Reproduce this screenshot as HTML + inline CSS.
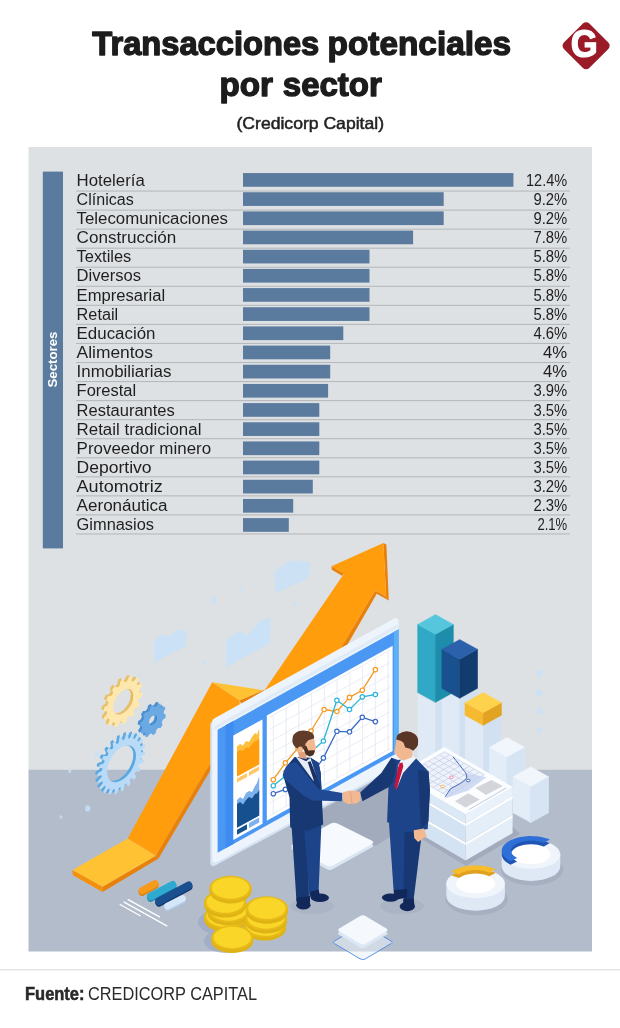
<!DOCTYPE html>
<html lang="es"><head><meta charset="utf-8"><title>Transacciones potenciales por sector</title>
<style>
html,body{margin:0;padding:0;background:#fff}
body{width:620px;height:1028px;overflow:hidden;font-family:"Liberation Sans",sans-serif}
svg{display:block}
svg text{font-family:"Liberation Sans",sans-serif}
.ttl{font-weight:bold;font-size:33.5px;fill:#1c1c1c;stroke:#1c1c1c;stroke-width:1.4px;stroke-linejoin:round}
.sub{font-size:16.5px;fill:#222;stroke:#222;stroke-width:.5px}
.rows text{font-size:16px;fill:#1f1f1f}
.side{font-weight:bold;font-size:12.5px;fill:#fff}
.src{font-size:18px;fill:#2a2a2a}
</style></head>
<body>
<svg width="620" height="1028" viewBox="0 0 620 1028">
<rect width="620" height="1028" fill="#fff"/>
<!-- heading -->
<text class="ttl" y="54.8"><tspan x="92.3" textLength="227" lengthAdjust="spacingAndGlyphs">Transacciones</tspan> <tspan x="327.6" textLength="183.5" lengthAdjust="spacingAndGlyphs">potenciales</tspan></text>
<text class="ttl" y="95.8"><tspan x="219.4" textLength="53.5" lengthAdjust="spacingAndGlyphs">por</tspan> <tspan x="282.8" textLength="99" lengthAdjust="spacingAndGlyphs">sector</tspan></text>
<text class="sub" x="236.5" y="129.1" textLength="147.5" lengthAdjust="spacingAndGlyphs">(Credicorp Capital)</text>
<!-- logo -->
<g>
<rect x="568.15" y="27.75" width="35.9" height="35.9" rx="4.5" fill="#9a1b27" transform="rotate(45 586.1 45.7)"/>
<text transform="translate(584.2 57.3) scale(.89 1)" text-anchor="middle" font-weight="bold" font-size="39" fill="#fff" stroke="#fff" stroke-width="1.2">G</text>
</g>
<!-- panel -->
<rect x="28.5" y="147" width="563.5" height="623" fill="#dee1e4"/>
<rect x="28.5" y="769.8" width="563.5" height="181.7" fill="#b3bccb"/>
<!-- illustration -->
<g id="illus">
<polygon points="153.8,663.0 153.8,640.0 163.0,633.9 169.1,637.0 176.8,629.3 186.0,630.8 186.0,646.1" fill="#c8e1f8" opacity=".85"/>
<polygon points="225.8,667.6 225.8,640.0 239.6,630.8 247.3,635.4 259.5,621.6 270.3,617.0 270.3,643.1" fill="#c8e1f8" opacity=".85"/>
<polygon points="274.8,594.0 274.8,571.0 287.1,561.9 299.4,560.3 310.1,563.4 310.1,577.2" fill="#c8e1f8" opacity=".8"/>
<ellipse cx="213.6" cy="600.2" rx="3.0" ry="3.6" fill="#c8e1f8" opacity=".8"/>
<ellipse cx="241.1" cy="589.4" rx="1.6" ry="1.9" fill="#c8e1f8" opacity=".8"/>
<ellipse cx="294.8" cy="603.2" rx="1.8" ry="2.2" fill="#c8e1f8" opacity=".8"/>
<ellipse cx="204.4" cy="663.0" rx="1.8" ry="2.2" fill="#c8e1f8" opacity=".8"/>
<ellipse cx="539.4" cy="673.5" rx="3.2" ry="3.8" fill="#c8e1f8" opacity=".8"/>
<ellipse cx="539.4" cy="693.0" rx="3.2" ry="3.8" fill="#c8e1f8" opacity=".8"/>
<ellipse cx="539.4" cy="711.0" rx="3.0" ry="3.6" fill="#c8e1f8" opacity=".8"/>
<ellipse cx="539.4" cy="730.6" rx="2.6" ry="3.1" fill="#c8e1f8" opacity=".8"/>
<ellipse cx="87.7" cy="808.4" rx="2.6" ry="3.1" fill="#c8e1f8" opacity=".8"/>
<ellipse cx="61.0" cy="817.0" rx="1.4" ry="1.7" fill="#c8e1f8" opacity=".8"/>
<ellipse cx="69.8" cy="771.0" rx="1.6" ry="1.9" fill="#c8e1f8" opacity=".8"/>
<ellipse cx="97.0" cy="754.0" rx="2.5" ry="3.0" fill="#c8e1f8" opacity=".8"/>
<path transform="matrix(.87 -.5 0 1 120.8 700.4)" d="M18.68,0.00 L22.43,1.82 L21.89,5.20 L17.76,5.77 L16.83,8.10 L19.42,11.37 L17.46,14.19 L13.50,12.91 L11.64,14.60 L12.56,18.67 L9.58,20.36 L6.56,17.48 L4.16,18.21 L3.22,22.27 L-0.20,22.50 L-1.67,18.60 L-4.16,18.21 L-6.76,21.46 L-9.94,20.18 L-9.58,16.03 L-11.64,14.60 L-15.40,16.40 L-17.72,13.87 L-15.59,10.29 L-16.83,8.10 L-20.99,8.09 L-21.98,4.81 L-18.51,2.51 L-18.68,0.00 L-22.43,-1.82 L-21.89,-5.20 L-17.76,-5.77 L-16.83,-8.10 L-19.42,-11.37 L-17.46,-14.19 L-13.50,-12.91 L-11.64,-14.60 L-12.56,-18.67 L-9.58,-20.36 L-6.56,-17.48 L-4.16,-18.21 L-3.22,-22.27 L0.20,-22.50 L1.67,-18.60 L4.16,-18.21 L6.76,-21.46 L9.94,-20.18 L9.58,-16.03 L11.64,-14.60 L15.40,-16.40 L17.72,-13.87 L15.59,-10.29 L16.83,-8.10 L20.99,-8.09 L21.98,-4.81 L18.51,-2.51Z M11.50,0 A11.50,11.50 0 1 0 -11.50,0 A11.50,11.50 0 1 0 11.50,0Z" fill="#e6c06a" fill-rule="evenodd"/>
<path transform="matrix(.87 -.5 0 1 123.2 701.8)" d="M18.68,0.00 L22.43,1.82 L21.89,5.20 L17.76,5.77 L16.83,8.10 L19.42,11.37 L17.46,14.19 L13.50,12.91 L11.64,14.60 L12.56,18.67 L9.58,20.36 L6.56,17.48 L4.16,18.21 L3.22,22.27 L-0.20,22.50 L-1.67,18.60 L-4.16,18.21 L-6.76,21.46 L-9.94,20.18 L-9.58,16.03 L-11.64,14.60 L-15.40,16.40 L-17.72,13.87 L-15.59,10.29 L-16.83,8.10 L-20.99,8.09 L-21.98,4.81 L-18.51,2.51 L-18.68,0.00 L-22.43,-1.82 L-21.89,-5.20 L-17.76,-5.77 L-16.83,-8.10 L-19.42,-11.37 L-17.46,-14.19 L-13.50,-12.91 L-11.64,-14.60 L-12.56,-18.67 L-9.58,-20.36 L-6.56,-17.48 L-4.16,-18.21 L-3.22,-22.27 L0.20,-22.50 L1.67,-18.60 L4.16,-18.21 L6.76,-21.46 L9.94,-20.18 L9.58,-16.03 L11.64,-14.60 L15.40,-16.40 L17.72,-13.87 L15.59,-10.29 L16.83,-8.10 L20.99,-8.09 L21.98,-4.81 L18.51,-2.51Z M11.50,0 A11.50,11.50 0 1 0 -11.50,0 A11.50,11.50 0 1 0 11.50,0Z" fill="#fde7ad" fill-rule="evenodd"/>
<path transform="matrix(.87 -.5 0 1 123.2 701.8)" d="M3.45,-10.92 A11.50,11.50 0 0 1 3.45,10.92 A9.20,11.50 0 0 0 3.45,-10.92Z" fill="#e0b85c"/>
<path transform="matrix(.87 -.5 0 1 150.6 718.8)" d="M12.45,0.00 L14.90,1.69 L14.21,4.81 L11.27,5.30 L10.07,7.32 L11.06,10.13 L8.66,12.25 L6.00,10.91 L3.85,11.84 L3.00,14.70 L-0.19,15.00 L-1.56,12.35 L-3.85,11.84 L-6.22,13.65 L-8.97,12.02 L-8.52,9.08 L-10.07,7.32 L-13.05,7.39 L-14.32,4.46 L-12.23,2.33 L-12.45,0.00 L-14.90,-1.69 L-14.21,-4.81 L-11.27,-5.30 L-10.07,-7.32 L-11.06,-10.13 L-8.66,-12.25 L-6.00,-10.91 L-3.85,-11.84 L-3.00,-14.70 L0.19,-15.00 L1.56,-12.35 L3.85,-11.84 L6.22,-13.65 L8.97,-12.02 L8.52,-9.08 L10.07,-7.32 L13.05,-7.39 L14.32,-4.46 L12.23,-2.33Z M4.50,0 A4.50,4.50 0 1 0 -4.50,0 A4.50,4.50 0 1 0 4.50,0Z" fill="#4c8fd2" fill-rule="evenodd"/>
<path transform="matrix(.87 -.5 0 1 153.0 720.2)" d="M12.45,0.00 L14.90,1.69 L14.21,4.81 L11.27,5.30 L10.07,7.32 L11.06,10.13 L8.66,12.25 L6.00,10.91 L3.85,11.84 L3.00,14.70 L-0.19,15.00 L-1.56,12.35 L-3.85,11.84 L-6.22,13.65 L-8.97,12.02 L-8.52,9.08 L-10.07,7.32 L-13.05,7.39 L-14.32,4.46 L-12.23,2.33 L-12.45,0.00 L-14.90,-1.69 L-14.21,-4.81 L-11.27,-5.30 L-10.07,-7.32 L-11.06,-10.13 L-8.66,-12.25 L-6.00,-10.91 L-3.85,-11.84 L-3.00,-14.70 L0.19,-15.00 L1.56,-12.35 L3.85,-11.84 L6.22,-13.65 L8.97,-12.02 L8.52,-9.08 L10.07,-7.32 L13.05,-7.39 L14.32,-4.46 L12.23,-2.33Z M4.50,0 A4.50,4.50 0 1 0 -4.50,0 A4.50,4.50 0 1 0 4.50,0Z" fill="#6aa9e2" fill-rule="evenodd"/>
<path transform="matrix(.87 -.5 0 1 153.0 720.2)" d="M1.35,-4.27 A4.50,4.50 0 0 1 1.35,4.27 A3.60,4.50 0 0 0 1.35,-4.27Z" fill="#3f7fc4"/>
<path transform="matrix(.87 -.5 0 1 119.1 762.4)" d="M22.82,0.00 L27.46,1.41 L27.20,4.07 L22.37,4.53 L21.90,6.43 L25.95,9.09 L24.95,11.57 L20.19,10.65 L19.20,12.34 L22.34,16.04 L20.68,18.13 L16.37,15.91 L14.95,17.25 L16.92,21.68 L14.74,23.22 L11.22,19.87 L9.48,20.76 L10.12,25.57 L7.60,26.43 L5.17,22.23 L3.25,22.59 L2.51,27.39 L-0.16,27.50 L-1.30,22.79 L-3.25,22.59 L-5.31,26.98 L-7.90,26.34 L-7.67,21.50 L-9.48,20.76 L-12.69,24.39 L-15.00,23.05 L-13.42,18.47 L-14.95,17.25 L-19.05,19.83 L-20.89,17.89 L-18.08,13.94 L-19.20,12.34 L-23.87,13.66 L-25.08,11.28 L-21.27,8.28 L-21.90,6.43 L-26.75,6.38 L-27.24,3.76 L-22.74,1.95 L-22.82,0.00 L-27.46,-1.41 L-27.20,-4.07 L-22.37,-4.53 L-21.90,-6.43 L-25.95,-9.09 L-24.95,-11.57 L-20.19,-10.65 L-19.20,-12.34 L-22.34,-16.04 L-20.68,-18.13 L-16.37,-15.91 L-14.95,-17.25 L-16.92,-21.68 L-14.74,-23.22 L-11.22,-19.87 L-9.48,-20.76 L-10.12,-25.57 L-7.60,-26.43 L-5.17,-22.23 L-3.25,-22.59 L-2.51,-27.39 L0.16,-27.50 L1.30,-22.79 L3.25,-22.59 L5.31,-26.98 L7.90,-26.34 L7.67,-21.50 L9.48,-20.76 L12.69,-24.39 L15.00,-23.05 L13.42,-18.47 L14.95,-17.25 L19.05,-19.83 L20.89,-17.89 L18.08,-13.94 L19.20,-12.34 L23.87,-13.66 L25.08,-11.28 L21.27,-8.28 L21.90,-6.43 L26.75,-6.38 L27.24,-3.76 L22.74,-1.95Z M16.50,0 A16.50,16.50 0 1 0 -16.50,0 A16.50,16.50 0 1 0 16.50,0Z" fill="#5aa9e0" fill-rule="evenodd"/>
<path transform="matrix(.87 -.5 0 1 121.5 763.8)" d="M22.82,0.00 L27.46,1.41 L27.20,4.07 L22.37,4.53 L21.90,6.43 L25.95,9.09 L24.95,11.57 L20.19,10.65 L19.20,12.34 L22.34,16.04 L20.68,18.13 L16.37,15.91 L14.95,17.25 L16.92,21.68 L14.74,23.22 L11.22,19.87 L9.48,20.76 L10.12,25.57 L7.60,26.43 L5.17,22.23 L3.25,22.59 L2.51,27.39 L-0.16,27.50 L-1.30,22.79 L-3.25,22.59 L-5.31,26.98 L-7.90,26.34 L-7.67,21.50 L-9.48,20.76 L-12.69,24.39 L-15.00,23.05 L-13.42,18.47 L-14.95,17.25 L-19.05,19.83 L-20.89,17.89 L-18.08,13.94 L-19.20,12.34 L-23.87,13.66 L-25.08,11.28 L-21.27,8.28 L-21.90,6.43 L-26.75,6.38 L-27.24,3.76 L-22.74,1.95 L-22.82,0.00 L-27.46,-1.41 L-27.20,-4.07 L-22.37,-4.53 L-21.90,-6.43 L-25.95,-9.09 L-24.95,-11.57 L-20.19,-10.65 L-19.20,-12.34 L-22.34,-16.04 L-20.68,-18.13 L-16.37,-15.91 L-14.95,-17.25 L-16.92,-21.68 L-14.74,-23.22 L-11.22,-19.87 L-9.48,-20.76 L-10.12,-25.57 L-7.60,-26.43 L-5.17,-22.23 L-3.25,-22.59 L-2.51,-27.39 L0.16,-27.50 L1.30,-22.79 L3.25,-22.59 L5.31,-26.98 L7.90,-26.34 L7.67,-21.50 L9.48,-20.76 L12.69,-24.39 L15.00,-23.05 L13.42,-18.47 L14.95,-17.25 L19.05,-19.83 L20.89,-17.89 L18.08,-13.94 L19.20,-12.34 L23.87,-13.66 L25.08,-11.28 L21.27,-8.28 L21.90,-6.43 L26.75,-6.38 L27.24,-3.76 L22.74,-1.95Z M16.50,0 A16.50,16.50 0 1 0 -16.50,0 A16.50,16.50 0 1 0 16.50,0Z" fill="#b9dbf8" fill-rule="evenodd"/>
<path transform="matrix(.87 -.5 0 1 121.5 763.8)" d="M4.95,-15.67 A16.50,16.50 0 0 1 4.95,15.67 A13.20,16.50 0 0 0 4.95,-15.67Z" fill="#5aa9e0"/>
<polygon points="417.7,693.9 435.5,703.8 435.5,788.8 417.7,778.9" fill="#dfeaf6" />
<polygon points="435.5,703.8 453.3,693.9 453.3,778.9 435.5,788.8" fill="#d2e1f1" />
<polygon points="441.9,688.9 459.7,698.8 459.7,803.8 441.9,793.9" fill="#dfeaf6" />
<polygon points="459.7,698.8 477.5,688.9 477.5,793.9 459.7,803.8" fill="#d2e1f1" />
<polygon points="465.0,715.1 483.2,725.2 483.2,820.2 465.0,810.1" fill="#dfeaf6" />
<polygon points="483.2,725.2 501.4,715.1 501.4,810.1 483.2,820.2" fill="#d2e1f1" />
<polygon points="417.7,624.4 435.5,634.3 435.5,702.3 417.7,692.4" fill="#2fa9c6" stroke="#2fa9c6" stroke-width=".6"/>
<polygon points="435.5,634.3 453.3,624.4 453.3,692.4 435.5,702.3" fill="#1e8dab" stroke="#1e8dab" stroke-width=".6"/>
<polygon points="435.5,614.5 453.3,624.4 435.5,634.3 417.7,624.4" fill="#56c6dc" stroke="#56c6dc" stroke-width=".4"/>
<polygon points="441.9,649.3 459.7,659.2 459.7,698.2 441.9,688.3" fill="#19518f" stroke="#19518f" stroke-width=".6"/>
<polygon points="459.7,659.2 477.5,649.3 477.5,688.3 459.7,698.2" fill="#123c6e" stroke="#123c6e" stroke-width=".6"/>
<polygon points="459.7,639.4 477.5,649.3 459.7,659.2 441.9,649.3" fill="#2b60ab" stroke="#2b60ab" stroke-width=".4"/>
<polygon points="465.0,702.7 483.2,712.8 483.2,725.3 465.0,715.2" fill="#f6ba30" stroke="#f6ba30" stroke-width=".6"/>
<polygon points="483.2,712.8 501.4,702.7 501.4,715.2 483.2,725.3" fill="#e2a222" stroke="#e2a222" stroke-width=".6"/>
<polygon points="483.2,692.6 501.4,702.7 483.2,712.8 465.0,702.7" fill="#ffd24d" stroke="#ffd24d" stroke-width=".4"/>
<polygon points="489.4,747.2 507.0,756.9 507.0,801.9 489.4,792.2" fill="#e3edf8" stroke="#e3edf8" stroke-width=".6"/>
<polygon points="507.0,756.9 524.6,747.2 524.6,792.2 507.0,801.9" fill="#d6e4f3" stroke="#d6e4f3" stroke-width=".6"/>
<polygon points="507.0,737.4 524.6,747.2 507.0,756.9 489.4,747.2" fill="#f1f6fc" stroke="#f1f6fc" stroke-width=".4"/>
<polygon points="513.0,776.7 530.8,786.6 530.8,822.6 513.0,812.7" fill="#e3edf8" stroke="#e3edf8" stroke-width=".6"/>
<polygon points="530.8,786.6 548.6,776.7 548.6,812.7 530.8,822.6" fill="#d6e4f3" stroke="#d6e4f3" stroke-width=".6"/>
<polygon points="530.8,766.8 548.6,776.7 530.8,786.6 513.0,776.7" fill="#f1f6fc" stroke="#f1f6fc" stroke-width=".4"/>
<polygon points="383.3,543.0 386.4,544.5 388.8,600.5 386.2,596.7" fill="#e8800a" />
<polygon points="375.3,590.2 386.2,596.7 388.8,600.5 376.3,593.6" fill="#e8800a" />
<polygon points="375.3,590.2 376.8,593.8 304.5,719.0 300.0,716.0" fill="#e8800a" />
<polygon points="331.5,566.2 331.8,569.8 342.0,575.8 344.1,573.5" fill="#e8800a" />
<polygon points="383.3,543.0 331.5,566.2 344.1,573.5 262.0,694.0 300.0,716.0 375.3,590.2 386.2,596.7" fill="#ff9d0c" />
<polygon points="212.2,682.2 263.6,690.2 239.7,700.5" fill="#ffc233" />
<polygon points="239.7,700.5 263.6,690.2 268.0,693.0 246.0,714.0" fill="#e8800a" />
<polygon points="212.2,682.2 239.7,700.5 240.0,730.0 214.0,757.0 155.8,855.8 127.7,838.4" fill="#ff9d0c" />
<polygon points="155.8,855.8 214.0,757.0 217.0,759.0 158.5,858.5" fill="#e8800a" />
<polygon points="72.6,869.9 102.6,886.8 102.6,892.0 72.6,875.0" fill="#f5900a" />
<polygon points="102.6,886.8 155.8,855.8 158.5,858.5 102.6,892.0" fill="#e8800a" />
<polygon points="127.7,838.4 72.6,869.9 102.6,886.8 155.8,855.8" fill="#ffc233" />
<polygon points="322.0,810.0 398.0,768.0 398.0,800.0 392.0,836.0 375.0,846.0 322.0,826.0" fill="#a2abbc" />
<path d="M293,846.2 Q290,848.2 293,850.2 L326.5,869 Q329.8,870.8 333,869 L371.5,847.6 Q375,845.6 371.5,843.8 L337.5,825.8 Q334,824 330.8,825.8 Z" fill="#dbe6f3" />
<path d="M293,844 Q290,846 293,848 L326.5,865.4 Q329.8,867.2 333,865.4 L371.5,844.2 Q375,842.4 371.5,840.6 L337.5,823.6 Q334,821.8 330.8,823.6 Z" fill="#f6f9fd" />
<polygon points="213.3,724.5 393.6,624.2 393.6,766.6 213.3,863.0" fill="#d5e3f3" stroke="#d5e3f3" stroke-width="6" stroke-linejoin="round"/>
<polygon points="215.2,721.3 395.6,621.1 395.6,763.3 215.2,859.5" fill="#eef4fc" stroke="#eef4fc" stroke-width="6" stroke-linejoin="round"/>
<polygon points="214.0,726.2 398.6,623.8 398.6,627.5 214.0,730.0" fill="#e0ebf8" />
<polygon points="217.6,729.7 398.6,629.2 398.6,752.2 217.6,852.7" fill="#4a98f4" />
<polygon points="394.0,631.8 398.6,629.2 398.6,752.2 394.0,754.8" fill="#5cb0f6" />
<polygon points="225.5,725.3 233.6,720.8 233.6,843.8 225.5,848.3" fill="#3f8cf0" />
<polygon points="233.3,735.6 262.5,719.4 262.5,823.7 233.3,839.9" fill="#ffffff" />
<polygon points="237.0,746.5 240.0,744.0 243.0,745.5 246.0,741.0 249.0,742.0 252.0,737.0 255.0,733.0 257.0,734.5 259.2,728.5 259.2,764.3 237.0,776.6" fill="#ffbf3a" />
<polygon points="237.0,752.0 240.0,750.0 243.0,751.0 246.0,747.5 249.0,748.0 252.0,744.0 255.0,741.5 259.2,739.0 259.2,764.3 237.0,776.6" fill="#ff9d0c" />
<polygon points="237.0,778.6 247.0,773.0 247.0,777.0 237.0,782.6" fill="#ffc766" />
<polygon points="249.0,772.0 259.2,766.3 259.2,770.3 249.0,776.0" fill="#ffc766" />
<polygon points="237.0,800.0 240.0,797.0 243.0,799.0 246.0,793.0 249.0,791.0 252.0,792.0 255.0,786.0 257.0,783.0 259.2,776.0 259.2,815.5 237.0,827.8" fill="#7db1ee" />
<polygon points="237.0,804.0 240.0,802.0 243.0,804.5 246.0,800.0 249.0,797.0 252.0,798.5 255.0,794.0 257.0,793.5 259.2,790.0 259.2,815.5 237.0,827.8" fill="#17508f" />
<polygon points="237.0,829.8 247.0,824.2 247.0,829.2 237.0,834.8" fill="#17508f" />
<polygon points="249.0,823.0 259.2,817.4 259.2,822.4 249.0,828.0" fill="#7db1ee" />
<polygon points="266.8,715.6 392.6,645.8 392.6,751.0 266.8,820.8" fill="#ffffff" />
<path d="M273.3,715.0v99 M286.1,707.9v99 M298.8,700.8v99 M311.6,693.8v99 M324.3,686.7v99 M337.1,679.6v99 M349.8,672.5v99 M362.6,665.5v99 M375.3,658.4v99 M388.1,651.3v99 M269.5,717.1L390,650.2 M269.5,729.4L390,662.5 M269.5,741.7L390,674.8 M269.5,754.0L390,687.1 M269.5,766.3L390,699.4 M269.5,778.6L390,711.7 M269.5,790.9L390,724.0 M269.5,803.2L390,736.3 M269.5,815.5L390,748.6" fill="none" stroke="#e3e7f1" stroke-width=".8"/>
<path d="M273.3,779.7 L285.4,762.8 L298.0,748.0 L311.0,731.0 L324.1,709.5 L336.9,711.5 L349.5,697.4 L362.3,690.2 L375.4,669.6" fill="none" stroke="#f59a23" stroke-width="1.3" stroke-linejoin="round"/>
<circle cx="273.3" cy="779.7" r="2.2" fill="#fff" stroke="#f59a23" stroke-width="1.2"/>
<circle cx="285.4" cy="762.8" r="2.2" fill="#fff" stroke="#f59a23" stroke-width="1.2"/>
<circle cx="298.0" cy="748.0" r="2.2" fill="#fff" stroke="#f59a23" stroke-width="1.2"/>
<circle cx="311.0" cy="731.0" r="2.2" fill="#fff" stroke="#f59a23" stroke-width="1.2"/>
<circle cx="324.1" cy="709.5" r="2.2" fill="#fff" stroke="#f59a23" stroke-width="1.2"/>
<circle cx="336.9" cy="711.5" r="2.2" fill="#fff" stroke="#f59a23" stroke-width="1.2"/>
<circle cx="349.5" cy="697.4" r="2.2" fill="#fff" stroke="#f59a23" stroke-width="1.2"/>
<circle cx="362.3" cy="690.2" r="2.2" fill="#fff" stroke="#f59a23" stroke-width="1.2"/>
<circle cx="375.4" cy="669.6" r="2.2" fill="#fff" stroke="#f59a23" stroke-width="1.2"/>
<path d="M273.3,785.7 L285.4,776.0 L298.0,760.0 L311.0,752.0 L323.4,741.0 L336.9,700.3 L349.5,709.5 L362.3,696.9 L375.4,694.5" fill="none" stroke="#2db4d8" stroke-width="1.3" stroke-linejoin="round"/>
<circle cx="273.3" cy="785.7" r="2.2" fill="#fff" stroke="#2db4d8" stroke-width="1.2"/>
<circle cx="285.4" cy="776.0" r="2.2" fill="#fff" stroke="#2db4d8" stroke-width="1.2"/>
<circle cx="298.0" cy="760.0" r="2.2" fill="#fff" stroke="#2db4d8" stroke-width="1.2"/>
<circle cx="311.0" cy="752.0" r="2.2" fill="#fff" stroke="#2db4d8" stroke-width="1.2"/>
<circle cx="323.4" cy="741.0" r="2.2" fill="#fff" stroke="#2db4d8" stroke-width="1.2"/>
<circle cx="336.9" cy="700.3" r="2.2" fill="#fff" stroke="#2db4d8" stroke-width="1.2"/>
<circle cx="349.5" cy="709.5" r="2.2" fill="#fff" stroke="#2db4d8" stroke-width="1.2"/>
<circle cx="362.3" cy="696.9" r="2.2" fill="#fff" stroke="#2db4d8" stroke-width="1.2"/>
<circle cx="375.4" cy="694.5" r="2.2" fill="#fff" stroke="#2db4d8" stroke-width="1.2"/>
<path d="M273.3,793.7 L285.4,789.4 L298.0,785.0 L311.0,776.0 L323.4,757.9 L336.9,731.3 L349.5,731.8 L362.3,717.3 L375.4,721.6" fill="none" stroke="#3a6cc6" stroke-width="1.3" stroke-linejoin="round"/>
<circle cx="273.3" cy="793.7" r="2.2" fill="#fff" stroke="#3a6cc6" stroke-width="1.2"/>
<circle cx="285.4" cy="789.4" r="2.2" fill="#fff" stroke="#3a6cc6" stroke-width="1.2"/>
<circle cx="298.0" cy="785.0" r="2.2" fill="#fff" stroke="#3a6cc6" stroke-width="1.2"/>
<circle cx="311.0" cy="776.0" r="2.2" fill="#fff" stroke="#3a6cc6" stroke-width="1.2"/>
<circle cx="323.4" cy="757.9" r="2.2" fill="#fff" stroke="#3a6cc6" stroke-width="1.2"/>
<circle cx="336.9" cy="731.3" r="2.2" fill="#fff" stroke="#3a6cc6" stroke-width="1.2"/>
<circle cx="349.5" cy="731.8" r="2.2" fill="#fff" stroke="#3a6cc6" stroke-width="1.2"/>
<circle cx="362.3" cy="717.3" r="2.2" fill="#fff" stroke="#3a6cc6" stroke-width="1.2"/>
<circle cx="375.4" cy="721.6" r="2.2" fill="#fff" stroke="#3a6cc6" stroke-width="1.2"/>
<polygon points="420.0,838.0 466.0,866.0 520.0,834.0 512.0,826.0" fill="#a2abbc" />
<polygon points="397.3,804.6 465.6,844.5 465.6,860.5 397.3,820.6" fill="#d3e3f3" />
<polygon points="465.6,844.5 512.6,817.0 512.6,833.0 465.6,860.5" fill="#e4eef9" />
<polygon points="397.3,802.6 465.6,842.5 465.6,845.0 397.3,805.1" fill="#ffffff" />
<polygon points="465.6,842.5 512.6,815.0 512.6,817.5 465.6,845.0" fill="#ffffff" />
<polygon points="397.3,785.6 465.6,825.5 465.6,842.5 397.3,802.6" fill="#d3e3f3" />
<polygon points="465.6,825.5 512.6,798.0 512.6,815.0 465.6,842.5" fill="#e4eef9" />
<polygon points="397.3,783.6 465.6,823.5 465.6,826.0 397.3,786.1" fill="#ffffff" />
<polygon points="465.6,823.5 512.6,796.0 512.6,798.5 465.6,826.0" fill="#ffffff" />
<polygon points="397.3,774.6 465.6,814.5 465.6,823.5 397.3,783.6" fill="#dbe8f5" />
<polygon points="465.6,814.5 512.6,787.0 512.6,796.0 465.6,823.5" fill="#e9f1fa" />
<polygon points="444.3,747.1 512.6,787.0 465.6,814.5 397.3,774.6" fill="#fbfdff" />
<polygon points="444.6,751.7 484.3,774.8 447.6,796.3 408.0,773.1" fill="#eef2fb" />
<path d="M444.6,751.7L408.0,773.1 M449.6,754.6L412.9,776.0 M454.5,757.5L417.9,778.9 M459.5,760.4L422.8,781.8 M464.4,763.3L427.8,784.7 M469.4,766.2L432.7,787.6 M474.3,769.1L437.7,790.5 M479.3,771.9L442.6,793.4 M484.3,774.8L447.6,796.3 M444.6,751.7L484.3,774.8 M439.4,754.8L479.0,777.9 M434.2,757.8L473.8,781.0 M428.9,760.9L468.5,784.0 M423.7,763.9L463.3,787.1 M418.5,767.0L458.1,790.2 M413.2,770.1L452.8,793.2 M408.0,773.1L447.6,796.3" fill="none" stroke="#b4bfdc" stroke-width=".5"/>
<polygon points="465.6,773.0 486.5,777.2 468.2,790.5 445.2,798.6 450.5,788.8 460.2,783.5 466.5,778.1" fill="#c6d3f0" opacity=".8"/>
<path d="M453.1,756.9 L459.4,764.8 L465.6,772.8 Q467.5,776.5 466.5,778.1 Q464,781.5 460.2,783.5 L450.5,788.8 L445.2,796.8" fill="none" stroke="#3a5fb0" stroke-width=".9" stroke-linejoin="round"/>
<ellipse cx="451.4" cy="777.3" rx="1.8" ry="1.3" fill="#fff" stroke="#f07ab0" stroke-width=".9"/>
<ellipse cx="442.5" cy="786.5" rx="1.8" ry="1.3" fill="#fff" stroke="#f5a84a" stroke-width=".9"/>
<ellipse cx="468.2" cy="780.5" rx="1.8" ry="1.3" fill="#fff" stroke="#3a5fb0" stroke-width=".9"/>
<polygon points="475.3,787.9 491.3,779.9 502.8,786.1 486.0,795.0" fill="#d3d5da" />
<polygon points="454.9,801.2 468.2,793.2 479.8,799.4 465.6,807.4" fill="#d3d5da" />
<path d="M506.4,787.8L468.8,809.8" fill="none" stroke="#9aa6c4" stroke-width=".6"/>
<ellipse cx="532.0" cy="869.3" rx="31.3" ry="16.1" fill="#a2abbc" opacity=".7"/>
<path d="M501.7,854.3 v12 a29.3,14.6 0 0 0 58.6,0 v-12 Z" fill="#dfe9f5"/>
<ellipse cx="531.0" cy="854.3" rx="29.3" ry="14.6" fill="#f0f5fb" />
<ellipse cx="531.0" cy="854.3" rx="19.5" ry="9.8" fill="#ffffff" />
<polygon points="549.8,843.1 548.1,842.4 546.2,841.8 544.2,841.3 542.2,840.8 540.1,840.4 537.9,840.1 535.7,839.9 533.5,839.8 531.2,839.7 529.0,839.7 526.7,839.9 524.5,840.1 522.3,840.4 520.2,840.7 518.2,841.2 516.2,841.7 514.3,842.3 512.5,843.0 510.8,843.7 509.2,844.5 507.8,845.4 506.5,846.3 505.3,847.3 504.3,848.3 503.5,849.3 502.8,850.4 502.3,851.5 501.9,852.6 501.7,853.7 501.7,854.8 501.9,855.9 502.2,857.0 502.7,858.1 503.4,859.2 504.2,860.2 505.2,861.2 506.4,862.2 507.7,863.1 509.1,864.0 510.6,864.8 517.1,861.5 516.0,860.9 515.1,860.3 514.2,859.7 513.4,859.1 512.7,858.4 512.2,857.7 511.7,856.9 511.4,856.2 511.1,855.4 511.0,854.6 511.0,853.9 511.1,853.1 511.4,852.4 511.7,851.6 512.2,850.9 512.8,850.2 513.5,849.5 514.3,848.8 515.2,848.2 516.1,847.6 517.2,847.1 518.4,846.6 519.6,846.1 520.9,845.7 522.2,845.3 523.6,845.0 525.1,844.7 526.6,844.5 528.1,844.4 529.6,844.3 531.1,844.3 532.7,844.3 534.2,844.4 535.7,844.6 537.2,844.8 538.6,845.1 540.0,845.4 541.4,845.7 542.6,846.2 543.9,846.6" fill="#1f55b5" />
<polygon points="549.8,839.5 548.1,838.8 546.2,838.2 544.2,837.7 542.2,837.2 540.1,836.8 537.9,836.5 535.7,836.3 533.5,836.2 531.2,836.1 529.0,836.1 526.7,836.3 524.5,836.5 522.3,836.8 520.2,837.1 518.2,837.6 516.2,838.1 514.3,838.7 512.5,839.4 510.8,840.1 509.2,840.9 507.8,841.8 506.5,842.7 505.3,843.7 504.3,844.7 503.5,845.7 502.8,846.8 502.3,847.9 501.9,849.0 501.7,850.1 501.7,851.2 501.9,852.3 502.2,853.4 502.7,854.5 503.4,855.6 504.2,856.6 505.2,857.6 506.4,858.6 507.7,859.5 509.1,860.4 510.6,861.2 517.1,857.9 516.0,857.3 515.1,856.7 514.2,856.1 513.4,855.5 512.7,854.8 512.2,854.1 511.7,853.3 511.4,852.6 511.1,851.8 511.0,851.0 511.0,850.3 511.1,849.5 511.4,848.8 511.7,848.0 512.2,847.3 512.8,846.6 513.5,845.9 514.3,845.2 515.2,844.6 516.1,844.0 517.2,843.5 518.4,843.0 519.6,842.5 520.9,842.1 522.2,841.7 523.6,841.4 525.1,841.1 526.6,840.9 528.1,840.8 529.6,840.7 531.1,840.7 532.7,840.7 534.2,840.8 535.7,841.0 537.2,841.2 538.6,841.5 540.0,841.8 541.4,842.1 542.6,842.6 543.9,843.0" fill="#2f6fd8" />
<ellipse cx="476.6" cy="899.1" rx="31.3" ry="16.1" fill="#a2abbc" opacity=".7"/>
<path d="M446.3,883.6 v12.5 a29.3,14.6 0 0 0 58.6,0 v-12.5 Z" fill="#dfe9f5"/>
<ellipse cx="475.6" cy="883.6" rx="29.3" ry="14.6" fill="#f0f5fb" />
<ellipse cx="475.6" cy="883.6" rx="19.5" ry="9.8" fill="#ffffff" />
<polygon points="495.6,872.9 494.6,872.5 493.7,872.1 492.6,871.7 491.6,871.4 490.5,871.0 489.4,870.7 488.3,870.4 487.1,870.2 486.0,869.9 484.8,869.7 483.6,869.5 482.3,869.4 481.1,869.3 479.9,869.2 478.6,869.1 477.3,869.0 476.1,869.0 474.8,869.0 473.5,869.0 472.3,869.1 471.0,869.2 469.8,869.3 468.5,869.4 467.3,869.6 466.1,869.8 464.9,870.0 463.8,870.2 462.6,870.5 461.5,870.8 460.4,871.1 459.3,871.5 458.3,871.8 457.3,872.2 456.3,872.6 455.4,873.0 454.5,873.5 453.6,873.9 452.8,874.4 452.0,874.9 451.3,875.4 459.0,878.0 459.5,877.7 460.0,877.3 460.6,877.0 461.2,876.7 461.8,876.4 462.4,876.1 463.1,875.8 463.8,875.5 464.5,875.3 465.2,875.1 466.0,874.8 466.7,874.6 467.5,874.5 468.3,874.3 469.1,874.1 470.0,874.0 470.8,873.9 471.6,873.8 472.5,873.7 473.3,873.7 474.2,873.6 475.1,873.6 475.9,873.6 476.8,873.6 477.6,873.7 478.5,873.7 479.4,873.8 480.2,873.9 481.0,874.0 481.9,874.1 482.7,874.2 483.5,874.4 484.3,874.6 485.0,874.8 485.8,875.0 486.5,875.2 487.2,875.5 487.9,875.7 488.6,876.0 489.2,876.3" fill="#e0a21e" />
<polygon points="495.6,869.3 494.6,868.9 493.7,868.5 492.6,868.1 491.6,867.8 490.5,867.4 489.4,867.1 488.3,866.8 487.1,866.6 486.0,866.3 484.8,866.1 483.6,865.9 482.3,865.8 481.1,865.7 479.9,865.6 478.6,865.5 477.3,865.4 476.1,865.4 474.8,865.4 473.5,865.4 472.3,865.5 471.0,865.6 469.8,865.7 468.5,865.8 467.3,866.0 466.1,866.2 464.9,866.4 463.8,866.6 462.6,866.9 461.5,867.2 460.4,867.5 459.3,867.9 458.3,868.2 457.3,868.6 456.3,869.0 455.4,869.4 454.5,869.9 453.6,870.3 452.8,870.8 452.0,871.3 451.3,871.8 459.0,874.4 459.5,874.1 460.0,873.7 460.6,873.4 461.2,873.1 461.8,872.8 462.4,872.5 463.1,872.2 463.8,871.9 464.5,871.7 465.2,871.5 466.0,871.2 466.7,871.0 467.5,870.9 468.3,870.7 469.1,870.5 470.0,870.4 470.8,870.3 471.6,870.2 472.5,870.1 473.3,870.1 474.2,870.0 475.1,870.0 475.9,870.0 476.8,870.0 477.6,870.1 478.5,870.1 479.4,870.2 480.2,870.3 481.0,870.4 481.9,870.5 482.7,870.6 483.5,870.8 484.3,871.0 485.0,871.2 485.8,871.4 486.5,871.6 487.2,871.9 487.9,872.1 488.6,872.4 489.2,872.7" fill="#f7bc2c" />
<ellipse cx="222.0" cy="922.0" rx="24.0" ry="13.0" fill="#9ba8c4" opacity=".7"/>
<ellipse cx="226.0" cy="941.0" rx="22.0" ry="12.0" fill="#9ba8c4" opacity=".7"/>
<path d="M204.1,916.5 v3 a21.1,12.3 0 0 0 42.2,0 v-3 Z" fill="#dfb314"/>
<ellipse cx="225.2" cy="916.5" rx="21.1" ry="12.3" fill="#e6ba18" />
<ellipse cx="225.2" cy="916.3" rx="18.7" ry="10.7" fill="#f9d628" />
<path d="M207.6,910.2 v3 a21.1,12.3 0 0 0 42.2,0 v-3 Z" fill="#dfb314"/>
<ellipse cx="228.7" cy="910.2" rx="21.1" ry="12.3" fill="#e6ba18" />
<ellipse cx="228.7" cy="910.0" rx="18.7" ry="10.7" fill="#f9d628" />
<path d="M204.1,902.3 v3 a21.1,12.3 0 0 0 42.2,0 v-3 Z" fill="#dfb314"/>
<ellipse cx="225.2" cy="902.3" rx="21.1" ry="12.3" fill="#e6ba18" />
<ellipse cx="225.2" cy="902.1" rx="18.7" ry="10.7" fill="#f9d628" />
<path d="M209.4,888.1 v3 a21.1,12.3 0 0 0 42.2,0 v-3 Z" fill="#dfb314"/>
<ellipse cx="230.5" cy="888.1" rx="21.1" ry="12.3" fill="#e6ba18" />
<ellipse cx="230.5" cy="887.9" rx="18.7" ry="10.7" fill="#f9d628" />
<path d="M243.9,925.3 v3 a21.1,12.3 0 0 0 42.2,0 v-3 Z" fill="#dfb314"/>
<ellipse cx="265.0" cy="925.3" rx="21.1" ry="12.3" fill="#e6ba18" />
<ellipse cx="265.0" cy="925.1" rx="18.7" ry="10.7" fill="#f9d628" />
<path d="M244.9,918.2 v3 a21.1,12.3 0 0 0 42.2,0 v-3 Z" fill="#dfb314"/>
<ellipse cx="266.0" cy="918.2" rx="21.1" ry="12.3" fill="#e6ba18" />
<ellipse cx="266.0" cy="918.0" rx="18.7" ry="10.7" fill="#f9d628" />
<path d="M245.8,908.5 v3 a21.1,12.3 0 0 0 42.2,0 v-3 Z" fill="#dfb314"/>
<ellipse cx="266.9" cy="908.5" rx="21.1" ry="12.3" fill="#e6ba18" />
<ellipse cx="266.9" cy="908.3" rx="18.7" ry="10.7" fill="#f9d628" />
<path d="M211.2,937.7 v3 a21.1,12.3 0 0 0 42.2,0 v-3 Z" fill="#dfb314"/>
<ellipse cx="232.3" cy="937.7" rx="21.1" ry="12.3" fill="#e6ba18" />
<ellipse cx="232.3" cy="937.5" rx="18.7" ry="10.7" fill="#f9d628" />
<path d="M142.2,892.2L155.0,885.4" stroke="#d9820f" stroke-width="7.2" stroke-linecap="round" fill="none"/>
<path d="M142.2,890.6L155.0,883.8" stroke="#f59a1a" stroke-width="7.2" stroke-linecap="round" fill="none"/>
<path d="M150.8,898.0L172.6,886.4" stroke="#1f8db3" stroke-width="7.6" stroke-linecap="round" fill="none"/>
<path d="M150.8,896.4L172.6,884.8" stroke="#2eaad0" stroke-width="7.6" stroke-linecap="round" fill="none"/>
<path d="M159.0,902.8L188.6,886.9" stroke="#123a70" stroke-width="7.6" stroke-linecap="round" fill="none"/>
<path d="M159.0,901.2L188.6,885.3" stroke="#1a4f90" stroke-width="7.6" stroke-linecap="round" fill="none"/>
<path d="M167.6,907.6L182.6,900.1" stroke="#b4cdea" stroke-width="6.6" stroke-linecap="round" fill="none"/>
<path d="M167.6,906.0L182.6,898.5" stroke="#d4e6f9" stroke-width="6.6" stroke-linecap="round" fill="none"/>
<path d="M127.7,899.4L160,917.1 M123.7,901.9L167.3,926.1 M119.7,904.2L140.6,916" fill="none" stroke="#ffffff" stroke-width="1.3"/>
<path d="M334.5,941 Q332,942.2 334.5,943.6 L360,958.8 Q362.8,960.4 365.6,958.8 L391,943.6 Q393.6,942.2 391,941 L365.6,926 Q362.8,924.4 360,926 Z" fill="#e9f1fb" stroke="#4a8ae0" stroke-width=".9" fill-opacity=".55"/>
<path d="M339,932.4 Q337,933.6 339,934.8 L360.2,947.6 Q362.8,949 365.4,947.6 L386.6,934.8 Q388.6,933.6 386.6,932.4 L386.6,929.4 L339,929.4 Z" fill="#dbe7f4" />
<path d="M339.2,928.6 Q337,929.9 339.2,931.2 L360.2,943.8 Q362.8,945.2 365.4,943.8 L386.4,931.2 Q388.6,929.9 386.4,928.6 L365.4,916 Q362.8,914.5 360.2,916 Z" fill="#f5f9fe" />
<ellipse cx="312.0" cy="906.0" rx="22.0" ry="8.0" fill="#a2abbc" opacity=".45"/>
<ellipse cx="402.0" cy="906.0" rx="22.0" ry="8.0" fill="#a2abbc" opacity=".45"/>
<polygon points="291.5,825.0 308.0,829.0 309.0,899.0 296.5,901.5" fill="#173873" />
<polygon points="304.0,829.0 321.5,821.6 318.5,893.5 309.5,897.0" fill="#1d4389" />
<ellipse cx="303.4" cy="905.3" rx="7.2" ry="4.2" fill="#13285a" />
<polygon points="296.5,898.0 310.0,896.0 310.0,905.0 297.0,905.0" fill="#13285a" />
<ellipse cx="320.0" cy="897.8" rx="9.0" ry="4.3" fill="#13285a" />
<polygon points="309.8,892.0 318.7,889.5 320.0,897.0 311.0,899.0" fill="#13285a" />
<polygon points="294.6,756.9 285.9,767.1 283.0,774.4 289.5,797.6 290.2,827.5 307.0,831.0 323.2,824.5 321.5,790.3 320.7,772.9 318.5,762.7 310.6,757.7" fill="#173873" />
<polygon points="295.3,756.2 306.2,761.3 310.6,757.7 316.4,775.8 313.5,781.0" fill="#e6edf8" />
<polygon points="307.7,762.0 310.6,761.3 316.4,775.8 314.2,781.6 311.3,773.0" fill="#1b2f62" />
<polygon points="310.6,757.7 318.5,762.7 320.7,772.9 321.5,790.3 316.4,775.8" fill="#1d4389" />
<polygon points="289.0,764.0 296.0,762.0 318.5,788.9 342.5,792.9 341.8,801.2 312.0,800.5 304.0,796.1 283.7,778.5 283.5,771.0" fill="#214a94" />
<polygon points="297.5,750.5 305.0,752.0 307.0,759.0 299.5,758.0" fill="#e0a078" />
<polygon points="305.2,743.5 308.5,740.3 314.0,738.5 315.2,745.0 316.3,747.6 314.9,750.4 314.0,753.5 310.0,756.0 305.5,753.0" fill="#f2b891" />
<polygon points="304.2,745.5 306.3,746.0 308.3,750.6 313.0,750.3 315.2,750.6 313.2,755.2 309.5,756.4 305.8,754.4 304.0,750.0" fill="#4a2e22" />
<path d="M292.3,741 Q292.2,733 299,731 Q306,729.4 312,732.8 Q314.8,735.4 314,738.5 L308.5,740.3 L305.6,743.6 L304.6,749.5 L298,749 Q293,746.4 292.3,741Z" fill="#613c2b" />
<ellipse cx="300.3" cy="749.6" rx="2.6" ry="3.0" fill="#f2b891" />
<polygon points="389.0,823.0 407.5,829.0 406.5,894.5 394.0,896.5" fill="#1d4389" />
<polygon points="404.5,829.0 423.0,824.0 413.2,903.0 403.5,904.5" fill="#173873" />
<ellipse cx="390.5" cy="897.6" rx="8.6" ry="4.2" fill="#13285a" />
<polygon points="394.0,890.0 407.3,889.0 407.0,897.5 394.5,900.0" fill="#13285a" />
<ellipse cx="407.3" cy="906.6" rx="7.6" ry="4.6" fill="#13285a" />
<polygon points="403.5,899.0 413.8,898.5 414.6,907.0 403.0,907.0" fill="#13285a" />
<polygon points="391.5,757.7 398.0,760.0 416.1,758.4 428.5,771.5 429.9,790.3 427.7,829.0 407.0,832.5 387.1,822.0 388.5,786.0 386.0,775.0" fill="#1d4389" />
<polygon points="418.0,770.0 428.5,771.5 429.9,790.3 428.4,822.0 421.0,828.0 419.5,800.0" fill="#173873" />
<polygon points="413.7,830.3 423.9,828.5 426.8,836.1 418.1,842.0 414.2,838.0" fill="#f2b891" />
<polygon points="400.9,759.8 413.2,756.2 416.1,758.4 403.1,772.9 396.2,790.0 398.0,765.6" fill="#eef2fa" />
<polygon points="399.4,763.3 402.5,762.6 403.3,766.4 396.5,790.3 394.4,786.2 397.6,769.0" fill="#c8143c" />
<polygon points="391.5,757.7 396.5,762.0 393.5,781.0 389.0,787.0 362.4,801.2 360.2,792.5 381.3,772.9" fill="#173873" />
<polygon points="396.3,739.5 401.1,741.1 403.5,742.7 405.2,747.6 409.2,748.4 412.4,751.6 411.6,757.6 403.5,760.5 397.9,757.3 394.3,752.4 395.5,745.2" fill="#f2b891" />
<path d="M396.3,739.5 Q396.6,735 398.7,733.9 Q406.8,728.6 414.8,733.9 Q418.6,737.5 418.1,741.1 Q418.6,745.5 416.5,747.6 L413.2,750.8 L409.2,748.4 L405.2,747.6 L403.5,742.7 L401.1,741.1Z" fill="#5a3626" />
<path d="M342.5,792.5 L349,790.6 L356.3,791 L360.2,792.5 L360.6,800.5 L356.3,803.6 L347.6,804.1 L343.2,801.2Z" fill="#f2b891" />
<path d="M350.5,792 L352,803.5" fill="none" stroke="#e0a078" stroke-width=".8"/>
</g>
<!-- chart -->
<rect x="42.8" y="171.6" width="20.2" height="376.8" fill="#5a7b9d"/>
<text class="side" transform="translate(57.4 359.5) rotate(-90)" text-anchor="middle" textLength="56" lengthAdjust="spacingAndGlyphs">Sectores</text>
<g class="rows">
<rect x="243" y="173.06" width="270.4" height="13.7" fill="#5a7b9d"/>
<rect x="76" y="190.51" width="494" height="1.1" fill="#b7babd"/>
<text x="76.6" y="185.70" textLength="68.2" lengthAdjust="spacingAndGlyphs">Hotelería</text>
<text x="526.0" y="185.70" textLength="41.2" lengthAdjust="spacingAndGlyphs">12.4%</text>
<rect x="243" y="192.23" width="200.7" height="13.7" fill="#5a7b9d"/>
<rect x="76" y="209.56" width="494" height="1.1" fill="#b7babd"/>
<text x="76.6" y="204.85" textLength="57.1" lengthAdjust="spacingAndGlyphs">Clínicas</text>
<text x="533.4" y="204.85" textLength="33.8" lengthAdjust="spacingAndGlyphs">9.2%</text>
<rect x="243" y="211.40" width="200.7" height="13.7" fill="#5a7b9d"/>
<rect x="76" y="228.61" width="494" height="1.1" fill="#b7babd"/>
<text x="76.6" y="224.00" textLength="151.4" lengthAdjust="spacingAndGlyphs">Telecomunicaciones</text>
<text x="533.4" y="224.00" textLength="33.8" lengthAdjust="spacingAndGlyphs">9.2%</text>
<rect x="243" y="230.57" width="170.1" height="13.7" fill="#5a7b9d"/>
<rect x="76" y="247.66" width="494" height="1.1" fill="#b7babd"/>
<text x="76.6" y="243.15" textLength="99.7" lengthAdjust="spacingAndGlyphs">Construcción</text>
<text x="533.4" y="243.15" textLength="33.8" lengthAdjust="spacingAndGlyphs">7.8%</text>
<rect x="243" y="249.74" width="126.5" height="13.7" fill="#5a7b9d"/>
<rect x="76" y="266.71" width="494" height="1.1" fill="#b7babd"/>
<text x="76.6" y="262.30" textLength="54.7" lengthAdjust="spacingAndGlyphs">Textiles</text>
<text x="533.4" y="262.30" textLength="33.8" lengthAdjust="spacingAndGlyphs">5.8%</text>
<rect x="243" y="268.91" width="126.5" height="13.7" fill="#5a7b9d"/>
<rect x="76" y="285.76" width="494" height="1.1" fill="#b7babd"/>
<text x="76.6" y="281.45" textLength="64.4" lengthAdjust="spacingAndGlyphs">Diversos</text>
<text x="533.4" y="281.45" textLength="33.8" lengthAdjust="spacingAndGlyphs">5.8%</text>
<rect x="243" y="288.08" width="126.5" height="13.7" fill="#5a7b9d"/>
<rect x="76" y="304.81" width="494" height="1.1" fill="#b7babd"/>
<text x="76.6" y="300.60" textLength="88.5" lengthAdjust="spacingAndGlyphs">Empresarial</text>
<text x="533.4" y="300.60" textLength="33.8" lengthAdjust="spacingAndGlyphs">5.8%</text>
<rect x="243" y="307.25" width="126.5" height="13.7" fill="#5a7b9d"/>
<rect x="76" y="323.86" width="494" height="1.1" fill="#b7babd"/>
<text x="76.6" y="319.75" textLength="41.6" lengthAdjust="spacingAndGlyphs">Retail</text>
<text x="533.4" y="319.75" textLength="33.8" lengthAdjust="spacingAndGlyphs">5.8%</text>
<rect x="243" y="326.42" width="100.3" height="13.7" fill="#5a7b9d"/>
<rect x="76" y="342.91" width="494" height="1.1" fill="#b7babd"/>
<text x="76.6" y="338.90" textLength="78.9" lengthAdjust="spacingAndGlyphs">Educación</text>
<text x="533.4" y="338.90" textLength="33.8" lengthAdjust="spacingAndGlyphs">4.6%</text>
<rect x="243" y="345.59" width="87.2" height="13.7" fill="#5a7b9d"/>
<rect x="76" y="361.96" width="494" height="1.1" fill="#b7babd"/>
<text x="76.6" y="358.05" textLength="76.4" lengthAdjust="spacingAndGlyphs">Alimentos</text>
<text x="543.0" y="358.05" textLength="24.2" lengthAdjust="spacingAndGlyphs">4%</text>
<rect x="243" y="364.76" width="87.2" height="13.7" fill="#5a7b9d"/>
<rect x="76" y="381.01" width="494" height="1.1" fill="#b7babd"/>
<text x="76.6" y="377.20" textLength="94.8" lengthAdjust="spacingAndGlyphs">Inmobiliarias</text>
<text x="543.0" y="377.20" textLength="24.2" lengthAdjust="spacingAndGlyphs">4%</text>
<rect x="243" y="383.93" width="85.1" height="13.7" fill="#5a7b9d"/>
<rect x="76" y="400.06" width="494" height="1.1" fill="#b7babd"/>
<text x="76.6" y="396.35" textLength="59.5" lengthAdjust="spacingAndGlyphs">Forestal</text>
<text x="533.4" y="396.35" textLength="33.8" lengthAdjust="spacingAndGlyphs">3.9%</text>
<rect x="243" y="403.10" width="76.3" height="13.7" fill="#5a7b9d"/>
<rect x="76" y="419.11" width="494" height="1.1" fill="#b7babd"/>
<text x="76.6" y="415.50" textLength="98.2" lengthAdjust="spacingAndGlyphs">Restaurantes</text>
<text x="533.4" y="415.50" textLength="33.8" lengthAdjust="spacingAndGlyphs">3.5%</text>
<rect x="243" y="422.27" width="76.3" height="13.7" fill="#5a7b9d"/>
<rect x="76" y="438.16" width="494" height="1.1" fill="#b7babd"/>
<text x="76.6" y="434.65" textLength="124.8" lengthAdjust="spacingAndGlyphs">Retail tradicional</text>
<text x="533.4" y="434.65" textLength="33.8" lengthAdjust="spacingAndGlyphs">3.5%</text>
<rect x="243" y="441.44" width="76.3" height="13.7" fill="#5a7b9d"/>
<rect x="76" y="457.21" width="494" height="1.1" fill="#b7babd"/>
<text x="76.6" y="453.80" textLength="134.5" lengthAdjust="spacingAndGlyphs">Proveedor minero</text>
<text x="533.4" y="453.80" textLength="33.8" lengthAdjust="spacingAndGlyphs">3.5%</text>
<rect x="243" y="460.61" width="76.3" height="13.7" fill="#5a7b9d"/>
<rect x="76" y="476.26" width="494" height="1.1" fill="#b7babd"/>
<text x="76.6" y="472.95" textLength="75.0" lengthAdjust="spacingAndGlyphs">Deportivo</text>
<text x="533.4" y="472.95" textLength="33.8" lengthAdjust="spacingAndGlyphs">3.5%</text>
<rect x="243" y="479.78" width="69.8" height="13.7" fill="#5a7b9d"/>
<rect x="76" y="495.31" width="494" height="1.1" fill="#b7babd"/>
<text x="76.6" y="492.10" textLength="86.1" lengthAdjust="spacingAndGlyphs">Automotriz</text>
<text x="533.4" y="492.10" textLength="33.8" lengthAdjust="spacingAndGlyphs">3.2%</text>
<rect x="243" y="498.95" width="50.2" height="13.7" fill="#5a7b9d"/>
<rect x="76" y="514.36" width="494" height="1.1" fill="#b7babd"/>
<text x="76.6" y="511.25" textLength="91.0" lengthAdjust="spacingAndGlyphs">Aeronáutica</text>
<text x="533.4" y="511.25" textLength="33.8" lengthAdjust="spacingAndGlyphs">2.3%</text>
<rect x="243" y="518.12" width="45.8" height="13.7" fill="#5a7b9d"/>
<rect x="76" y="533.41" width="494" height="1.1" fill="#b7babd"/>
<text x="76.6" y="530.40" textLength="77.4" lengthAdjust="spacingAndGlyphs">Gimnasios</text>
<text x="537.4" y="530.40" textLength="29.8" lengthAdjust="spacingAndGlyphs">2.1%</text>
</g>
<!-- footer -->
<rect x="0" y="969" width="620" height="1.5" fill="#e6e6e6"/>
<text class="src" x="25" y="1000" font-weight="bold" stroke="#222" stroke-width=".5" textLength="59.5" lengthAdjust="spacingAndGlyphs">Fuente:</text>
<text class="src" x="88" y="1000" textLength="169" lengthAdjust="spacingAndGlyphs">CREDICORP CAPITAL</text>
</svg>
</body></html>
